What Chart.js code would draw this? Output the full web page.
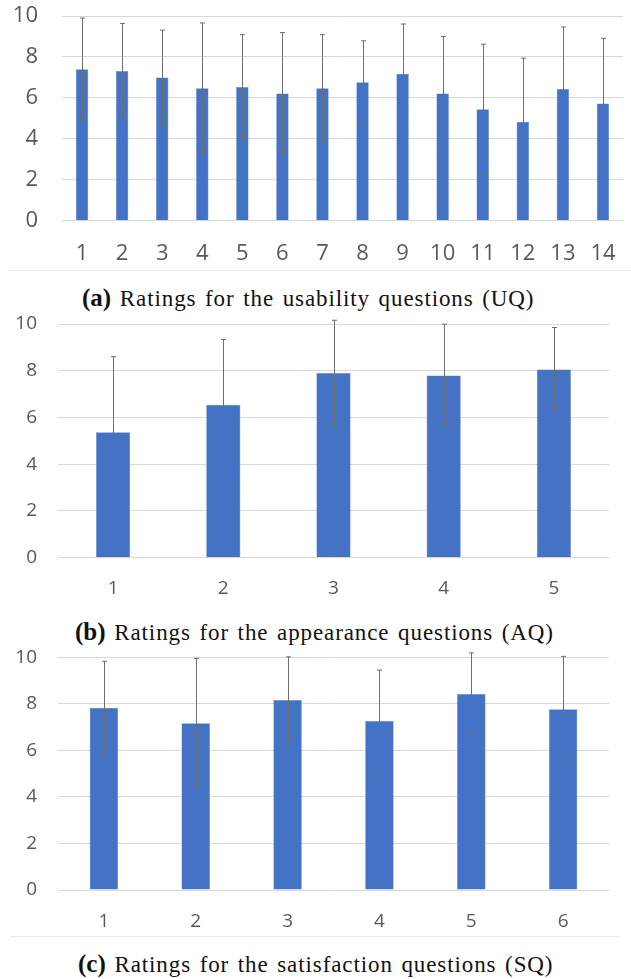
<!DOCTYPE html>
<html>
<head>
<meta charset="utf-8">
<script src="https://cdn.jsdelivr.net/npm/chart.js@4.4.0/dist/chart.umd.min.js"></script>
<style>
  body { margin: 0; background: #fff; width: 631px; height: 979px; position: relative; overflow: hidden; }
  .box { position: absolute; left: 0; width: 631px; }
  .cap { position: absolute; white-space: nowrap; font-family: "Liberation Serif", serif; font-size: 23px; letter-spacing: 0.9px; word-spacing: 2px; color: #111; line-height: 1; }
  .cap b { font-size: 25px; letter-spacing: 0; }
  .rule { position: absolute; height: 1px; background: #ececec; }
</style>
</head>
<body>
<div class="box" style="top:0;height:272px"><canvas id="uqChart"></canvas></div>
<div class="rule" style="top:270px;left:8px;width:623px"></div>
<div class="cap" id="capA" style="top:285px;left:82px"><b>(a)</b> Ratings for the usability questions (UQ)</div>

<div class="box" style="top:300px;height:310px"><canvas id="aqChart"></canvas></div>
<div class="cap" id="capB" style="top:619px;left:75px"><b>(b)</b> Ratings for the appearance questions (AQ)</div>

<div class="box" style="top:640px;height:300px"><canvas id="sqChart"></canvas></div>
<div class="rule" style="top:936px;left:10px;width:610px"></div>
<div class="cap" id="capC" style="top:951px;left:78px"><b>(c)</b> Ratings for the satisfaction questions (SQ)</div>

<script>
// (a) usability questions
const uqLabels = ['1', '2', '3', '4', '5', '6', '7', '8', '9', '10', '11', '12', '13', '14'];
const uqMeans = [7.40, 7.31, 6.99, 6.47, 6.53, 6.22, 6.47, 6.76, 7.18, 6.22, 5.44, 4.84, 6.43, 5.73];
const uqSd = [2.50, 2.32, 2.32, 3.19, 2.56, 2.97, 2.62, 2.03, 2.43, 2.78, 3.18, 3.10, 3.03, 3.18];

// (b) appearance questions
const aqLabels = ['1', '2', '3', '4', '5'];
const aqMeans = [5.37, 6.54, 7.90, 7.80, 8.05];
const aqSd = [3.23, 2.80, 2.26, 2.19, 1.80];

// (c) satisfaction questions
const sqLabels = ['1', '2', '3', '4', '5', '6'];
const sqMeans = [7.83, 7.17, 8.17, 7.26, 8.42, 7.77];
const sqSd = [2.00, 2.78, 1.85, 2.19, 1.77, 2.27];

const yTicks = [0, 2, 4, 6, 8, 10];

// error bars drawn from the bar elements + y scale
const errorBars = {
    id: 'errorBars',
    afterDatasetsDraw(chart, args, opts) {
        const ctx = chart.ctx;
        const y = chart.scales.y;
        const meta = chart.getDatasetMeta(0);
        const sds = opts.sd || [];
        ctx.save();
        ctx.strokeStyle = '#6e6e6e';
        ctx.lineWidth = 1;
        meta.data.forEach((bar, i) => {
            const m = chart.data.datasets[0].data[i];
            const x = Math.round(bar.x) + 0.5;
            const top = y.getPixelForValue(m + sds[i]);
            const bot = y.getPixelForValue(m - sds[i]);
            ctx.beginPath();
            ctx.moveTo(x, top); ctx.lineTo(x, bot);
            ctx.moveTo(x - 2.5, top); ctx.lineTo(x + 2.5, top);
            ctx.moveTo(x - 2.5, bot); ctx.lineTo(x + 2.5, bot);
            ctx.stroke();
        });
        ctx.restore();
    }
};

function makeChart(id, labels, means, sds, cfg) {
    return new Chart(document.getElementById(id), {
        type: 'bar',
        data: {
            labels: labels,
            datasets: [{
                data: means,
                backgroundColor: '#4472C4',
                borderColor: '#5b84cf',
                borderWidth: 0.5,
                categoryPercentage: 1,
                barPercentage: cfg.barPct
            }]
        },
        plugins: [errorBars],
        options: {
            responsive: true,
            maintainAspectRatio: false,
            animation: false,
            layout: { padding: { top: cfg.padTop, right: cfg.padRight, left: 0, bottom: 0 } },
            plugins: {
                legend: { display: false },
                tooltip: { enabled: false },
                errorBars: { sd: sds }
            },
            scales: {
                x: {
                    // invisible tick marks give the label gap without extra side padding
                    grid: { display: true, drawOnChartArea: false, drawTicks: true, tickLength: cfg.xGap, tickColor: 'rgba(0,0,0,0)' },
                    border: { display: false },
                    ticks: {
                        color: '#595959',
                        padding: 0,
                        font: { family: 'Open Sans', size: cfg.fontSize }
                    },
                    afterFit: (scale) => { scale.height = cfg.xHeight; }
                },
                y: {
                    min: 0,
                    max: 10,
                    afterBuildTicks: (scale) => { scale.ticks = yTicks.map(v => ({ value: v })); },
                    grid: { color: '#d9d9d9', lineWidth: 1, drawTicks: true, tickLength: cfg.yGap, tickColor: 'rgba(0,0,0,0)' },
                    border: { display: false },
                    ticks: {
                        color: '#595959',
                        padding: 0,
                        font: { family: 'Open Sans', size: cfg.fontSize }
                    },
                    afterFit: (scale) => { scale.width = cfg.yWidth; }
                }
            }
        }
    });
}

makeChart('uqChart', uqLabels, uqMeans, uqSd, {
    barPct: 0.31, padTop: 16, padRight: 8, xGap: 20, xHeight: 51.3,
    yGap: 24, yWidth: 62, fontSize: 22
});
makeChart('aqChart', aqLabels, aqMeans, aqSd, {
    barPct: 0.31, padTop: 24, padRight: 22, xGap: 19, xHeight: 52.3,
    yGap: 21, yWidth: 58, fontSize: 19
});
makeChart('sqChart', sqLabels, sqMeans, sqSd, {
    barPct: 0.31, padTop: 17.3, padRight: 22, xGap: 20, xHeight: 50,
    yGap: 21, yWidth: 58, fontSize: 19
});
</script>
</body>
</html>
